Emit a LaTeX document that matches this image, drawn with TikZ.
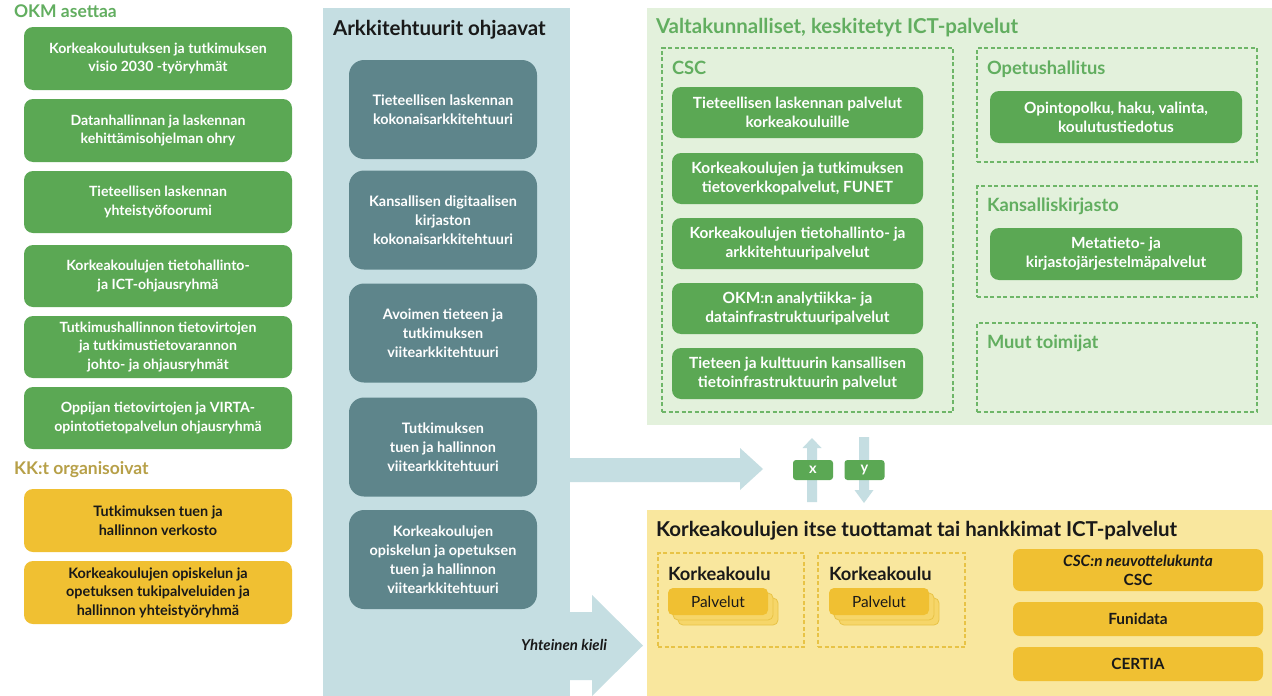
\documentclass[tikz,border=0pt]{standalone}
\usepackage{fontspec}
\setmainfont{Lato}
\newcommand\boxwt{\bfseries}
\definecolor{okgreen}{RGB}{91,168,84}
\definecolor{titlegreen}{RGB}{98,174,96}
\definecolor{panelgreen}{RGB}{227,241,220}
\definecolor{dashgreen}{RGB}{110,182,104}
\definecolor{panelblue}{RGB}{197,222,226}
\definecolor{archteal}{RGB}{94,133,139}
\definecolor{panelyellow}{RGB}{249,231,158}
\definecolor{goldbox}{RGB}{240,192,50}
\definecolor{goldback}{RGB}{246,214,105}
\definecolor{dashgold}{RGB}{232,195,70}
\definecolor{kkolive}{RGB}{183,160,72}
\definecolor{darktext}{RGB}{25,25,25}
\tikzset{
  gbox/.style={fill=okgreen, rounded corners=9pt, text=white, align=center,
    font=\boxwt\fontsize{14.1}{18.5}\selectfont},
  rgbox/.style={gbox, font=\boxwt\fontsize{15.4}{19}\selectfont},
  ybox/.style={fill=goldbox, rounded corners=9pt, text=darktext, align=center,
    font=\boxwt\fontsize{14.4}{18.5}\selectfont},
  rybox/.style={ybox, rounded corners=7pt, font=\boxwt\fontsize{15.4}{19}\selectfont},
  tbox/.style={fill=archteal, rounded corners=15pt, text=white, align=center,
    font=\boxwt\fontsize{14.4}{19}\selectfont},
  ltitle/.style={anchor=base west, font=\bfseries\fontsize{17.5}{20}\selectfont},
  ptitle/.style={anchor=base west, font=\bfseries\fontsize{20.5}{24}\selectfont},
  subtitle/.style={anchor=base west, font=\bfseries\fontsize{18.3}{21}\selectfont},
  dashbox/.style={draw=dashgreen, line width=1.4pt, dash pattern=on 4pt off 2.5pt},
  dashgoldbox/.style={draw=dashgold, line width=1.2pt, dash pattern=on 4pt off 2.5pt},
  xybox/.style={fill=okgreen, rounded corners=3pt, text=white, minimum width=40pt,
    minimum height=20pt, font=\boxwt\fontsize{14.5}{15}\selectfont},
  palbox/.style={rounded corners=5pt, minimum width=100, minimum height=27},
  bigarrow/.style={fill=panelblue},
  every node/.style={inner sep=0pt, outer sep=0pt}
}
\begin{document}
\begin{tikzpicture}[x=1pt,y=-1pt]
\useasboundingbox (0,0) rectangle (1272,696);
\fill[white] (0,0) rectangle (1272,696);

% panels
\fill[panelblue] (323,8) rectangle (570,696);
\fill[panelgreen] (647,8) rectangle (1272,425);
\fill[panelyellow] (647,510) rectangle (1272,696);

% block arrows
\fill[bigarrow] (569,458) -- (740,458) -- (740,448) -- (763,469) -- (740,490) -- (740,482) -- (569,482) -- cycle;
\fill[bigarrow] (569,612) -- (592,612) -- (592,595) -- (643,645.5) -- (592,696) -- (592,680) -- (569,680) -- cycle;
\fill[bigarrow] (807,502) -- (807,448) -- (802.5,448) -- (812,438) -- (821.5,448) -- (817,448) -- (817,502) -- cycle;
\fill[bigarrow] (859,437) -- (869,437) -- (869,490) -- (873.5,490) -- (864,503) -- (854.5,490) -- (859,490) -- cycle;
\node[xybox] (x) at (813,470) {x};
\node[xybox] (y) at (864.5,470) {y};

% left column
\node[ltitle, text=titlegreen] (okm) at (14,17) {OKM asettaa};
\node[gbox, minimum width=268, minimum height=63] (o1) at (158,58.5) {Korkeakoulutuksen ja tutkimuksen\\visio 2030 -työryhmät};
\node[gbox, minimum width=268, minimum height=63] (o2) at (158,130.5) {Datanhallinnan ja laskennan\\kehittämisohjelman ohry};
\node[gbox, minimum width=268, minimum height=62] (o3) at (158,202) {Tieteellisen laskennan\\yhteistyöfoorumi};
\node[gbox, minimum width=268, minimum height=62] (o4) at (158,276) {Korkeakoulujen tietohallinto-\\ja ICT-ohjausryhmä};
\node[gbox, minimum width=268, minimum height=62] (o5) at (158,347) {Tutkimushallinnon tietovirtojen\\ja tutkimustietovarannon\\johto- ja ohjausryhmät};
\node[gbox, minimum width=268, minimum height=62] (o6) at (158,418) {Oppijan tietovirtojen ja VIRTA-\\opintotietopalvelun ohjausryhmä};
\node[ltitle, text=kkolive] (kk) at (14,474) {KK:t organisoivat};
\node[ybox, minimum width=268, minimum height=63] (k1) at (158,520.5) {Tutkimuksen tuen ja\\hallinnon verkosto};
\node[ybox, minimum width=268, minimum height=63] (k2) at (158,592.5) {Korkeakoulujen opiskelun ja\\opetuksen tukipalveluiden ja\\hallinnon yhteistyöryhmä};

% middle column
\node[ptitle, text=darktext] (arch) at (333,35) {Arkkitehtuurit ohjaavat};
\node[tbox, minimum width=188, minimum height=99] (a1) at (443,109.5) {Tieteellisen laskennan\\kokonaisarkkitehtuuri};
\node[tbox, minimum width=188, minimum height=99] (a2) at (443,220) {Kansallisen digitaalisen\\kirjaston\\kokonaisarkkitehtuuri};
\node[tbox, minimum width=188, minimum height=99] (a3) at (443,333) {Avoimen tieteen ja\\tutkimuksen\\viitearkkitehtuuri};
\node[tbox, minimum width=188, minimum height=99] (a4) at (443,447) {Tutkimuksen\\tuen ja hallinnon\\viitearkkitehtuuri};
\node[tbox, minimum width=188, minimum height=99] (a5) at (443,559.5) {Korkeakoulujen\\opiskelun ja opetuksen\\tuen ja hallinnon\\viitearkkitehtuuri};
\node[anchor=base east, text=darktext, font=\bfseries\itshape\fontsize{15}{17}\selectfont] (kieli) at (607,650) {Yhteinen kieli};

% national ICT services
\node[ptitle, text=titlegreen] (valt) at (656,33) {Valtakunnalliset, keskitetyt ICT-palvelut};
\node[dashbox, minimum width=291, minimum height=364] (csc) at (807.5,230) {};
\node[subtitle, text=titlegreen] (csct) at (672,74) {CSC};
\node[rgbox, minimum width=251, minimum height=51] (c1) at (797.5,112.5) {Tieteellisen laskennan palvelut\\korkeakouluille};
\node[rgbox, minimum width=251, minimum height=51] (c2) at (797.5,178.5) {Korkeakoulujen ja tutkimuksen\\tietoverkkopalvelut, FUNET};
\node[rgbox, minimum width=251, minimum height=51] (c3) at (797.5,243.5) {Korkeakoulujen tietohallinto- ja\\arkkitehtuuripalvelut};
\node[rgbox, minimum width=251, minimum height=51] (c4) at (797.5,308.5) {OKM:n analytiikka- ja\\datainfrastruktuuripalvelut};
\node[rgbox, minimum width=251, minimum height=51] (c5) at (797.5,373.5) {Tieteen ja kulttuurin kansallisen\\tietoinfrastruktuurin palvelut};

\node[dashbox, minimum width=280, minimum height=114] (oph) at (1117,105) {};
\node[subtitle, text=titlegreen] (opht) at (987,74) {Opetushallitus};
\node[rgbox, minimum width=252, minimum height=52] (p1) at (1116,117) {Opintopolku, haku, valinta,\\koulutustiedotus};
\node[dashbox, minimum width=280, minimum height=111] (kan) at (1117,241.5) {};
\node[subtitle, text=titlegreen] (kant) at (987,211) {Kansalliskirjasto};
\node[rgbox, minimum width=252, minimum height=52] (p2) at (1116,254) {Metatieto- ja\\kirjastojärjestelmäpalvelut};
\node[dashbox, minimum width=280, minimum height=89] (muut) at (1117,367.5) {};
\node[subtitle, text=titlegreen] (muutt) at (987,348) {Muut toimijat};

% higher education institutions' own services
\node[ptitle, text=darktext] (kork) at (656,536) {Korkeakoulujen itse tuottamat tai hankkimat ICT-palvelut};
\node[dashgoldbox, minimum width=146, minimum height=94] (kk1) at (731,600) {};
\node[dashgoldbox, minimum width=147, minimum height=94] (kk2) at (891.5,600) {};
\node[subtitle, text=darktext] (kk1t) at (668,580) {Korkeakoulu};
\node[subtitle, text=darktext] (kk2t) at (829,580) {Korkeakoulu};
\foreach \dx/\nm in {10/a,5/b} {
  \node[palbox, fill=goldback, draw=dashgold, line width=0.8pt] (s1\nm) at (718+\dx,601.5+\dx) {};
  \node[palbox, fill=goldback, draw=dashgold, line width=0.8pt] (s2\nm) at (879+\dx,601.5+\dx) {};
}
\node[palbox, fill=goldbox, text=darktext, font=\fontsize{15.4}{17}\selectfont] (pal1) at (718,601.5) {Palvelut};
\node[palbox, fill=goldbox, text=darktext, font=\fontsize{15.4}{17}\selectfont] (pal2) at (879,601.5) {Palvelut};

\node[rybox, minimum width=250, minimum height=42] (g1) at (1138,570) {{\itshape CSC:n neuvottelukunta}\\CSC};
\node[rybox, minimum width=250, minimum height=34] (g2) at (1138,619) {Funidata};
\node[rybox, minimum width=250, minimum height=34] (g3) at (1138,664) {CERTIA};
\end{tikzpicture}
\end{document}
